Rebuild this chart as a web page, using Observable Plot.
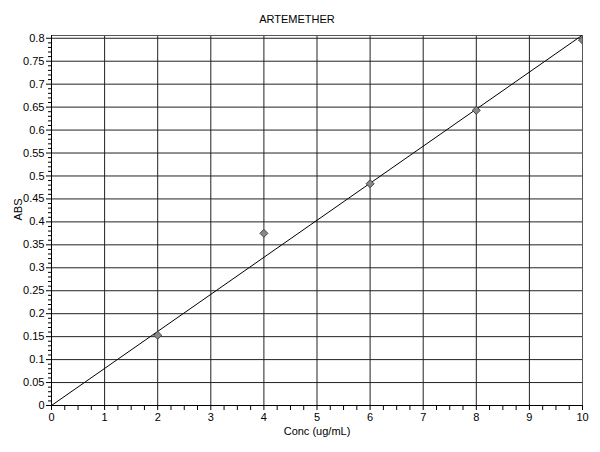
<!DOCTYPE html>
<html><head><meta charset="utf-8">
<script src="https://cdn.jsdelivr.net/npm/d3@7"></script>
<script src="https://cdn.jsdelivr.net/npm/@observablehq/plot@0.6"></script>
<style>body{margin:0;background:#fff;font-family:"Liberation Sans",Arial,sans-serif}</style>
</head><body><div id="chart"></div>
<script>
const title = "ARTEMETHER";
const xLabel = "Conc (ug/mL)";
const yLabel = "ABS";
const conc = [2, 4, 6, 8, 10];
const absValues = [0.153, 0.375, 0.483, 0.643, 0.796];
const fitConc = [0, 10];
const fitAbs = [0, 0.807];
const xTicks = [0, 1, 2, 3, 4, 5, 6, 7, 8, 9, 10];
const xTickLabels = ["0", "1", "2", "3", "4", "5", "6", "7", "8", "9", "10"];
const yTicks = [0, 0.05, 0.1, 0.15, 0.2, 0.25, 0.3, 0.35, 0.4, 0.45, 0.5, 0.55, 0.6, 0.65, 0.7, 0.75, 0.8];
const yTickLabels = ["0", "0.05", "0.1", "0.15", "0.2", "0.25", "0.3", "0.35", "0.4", "0.45", "0.5", "0.55", "0.6", "0.65", "0.7", "0.75", "0.8"];

const points = conc.map((c, i) => ({conc: c, abs: absValues[i]}));
const fit = fitConc.map((c, i) => ({conc: c, abs: fitAbs[i]}));
const xMinor = d3.range(0, 40).map(i => i * 0.25).filter(v => v % 1 !== 0);
const yMinor = d3.range(0, 81).map(i => i / 100).filter((v, i) => i % 5 !== 0);

const chart = Plot.plot({
  width: 600,
  height: 452,
  marginLeft: 51,
  marginRight: 18,
  marginTop: 35,
  marginBottom: 47,
  style: {fontFamily: "Liberation Sans, Arial, sans-serif", fontSize: "11px", background: "#fff", color: "#000"},
  x: {domain: [0, 10]},
  y: {domain: [0, 0.806]},
  marks: [
    Plot.gridX(xTicks, {stroke: "#222", strokeOpacity: 1}),
    Plot.gridY(yTicks, {stroke: "#222", strokeOpacity: 1}),
    Plot.frame({stroke: "#555"}),
    Plot.axisX(xTicks, {tickSize: 5, tickPadding: 3, tickFormat: (d, i) => xTickLabels[i], label: null}),
    Plot.axisX(xMinor, {tickSize: 5, tickFormat: () => "", label: null}),
    Plot.axisY(yTicks, {tickSize: 5, tickPadding: 2, tickFormat: (d, i) => yTickLabels[i], label: null}),
    Plot.axisY(yMinor, {tickSize: 3, tickFormat: () => "", label: null}),
    Plot.ruleX([0], {stroke: "#000"}),
    Plot.ruleY([0], {stroke: "#000"}),
    Plot.line(fit, {x: "conc", y: "abs", stroke: "#000", strokeWidth: 1, clip: true}),
    Plot.dot(points, {x: "conc", y: "abs", symbol: "diamond2", r: 3.6, fill: "#888", stroke: "#444", strokeWidth: 1, clip: true}),
    Plot.text([title], {frameAnchor: "top", dx: -20, dy: -20, fontSize: 11}),
    Plot.text([xLabel], {frameAnchor: "bottom", dy: 29, fontSize: 11}),
    Plot.text([yLabel], {frameAnchor: "left", dx: -33, rotate: -90, fontSize: 11})
  ]
});
document.getElementById("chart").appendChild(chart);
</script>
</body></html>
